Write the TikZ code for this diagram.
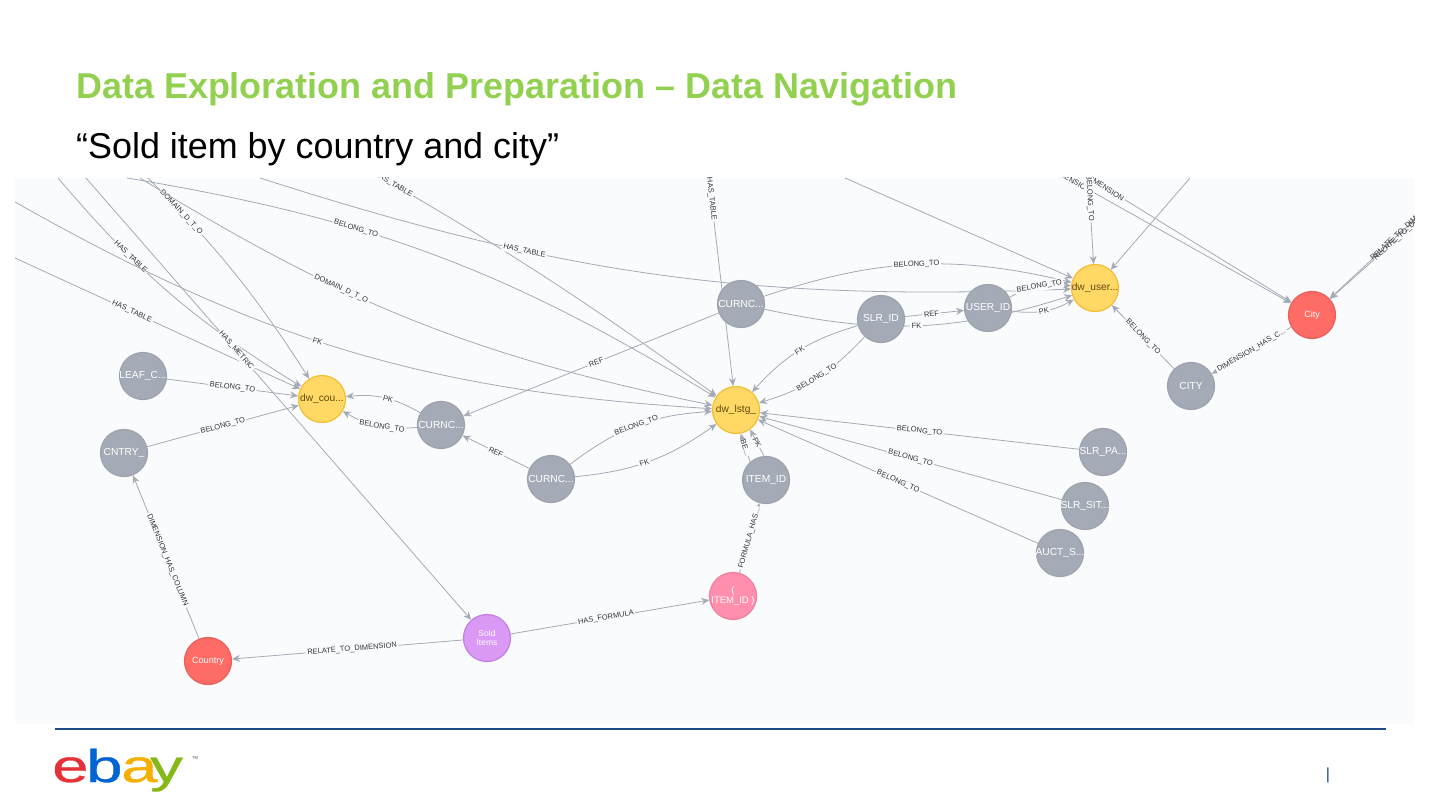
\documentclass[tikz,border=0pt]{standalone}
\usepackage{fontspec}
\setmainfont{Liberation Sans}
\newfontfamily\logofont[FakeBold=0.6]{Liberation Sans}
\usetikzlibrary{arrows.meta,backgrounds}
\definecolor{panelbg}{HTML}{F9FBFD}
\definecolor{edgegray}{HTML}{A5ABB6}
\definecolor{titlegreen}{HTML}{92D050}
\definecolor{rulenavy}{HTML}{1F4A86}
\newcommand{\logoletter}[1]{\scalebox{1.42}[1]{#1}}
\newcommand{\nodetext}[1]{\makebox[0pt][c]{#1}}
\tikzset{
  graphnode/.style={circle,minimum size=47pt,inner sep=0pt,line width=1.2pt,font=\fontsize{10.2}{11}\selectfont,text=white,align=center},
  columnnode/.style={graphnode,fill=edgegray,draw=edgegray!95!black},
  tablenode/.style={graphnode,fill={rgb,255:red,255;green,216;blue,102},draw={rgb,255:red,243;green,190;blue,50},text={rgb,255:red,96;green,74;blue,14}},
  dimnode/.style={graphnode,fill={rgb,255:red,255;green,108;blue,102},draw={rgb,255:red,232;green,95;blue,92},font=\fontsize{9}{10}\selectfont},
  formulanode/.style={graphnode,fill={rgb,255:red,255;green,143;blue,173},draw={rgb,255:red,238;green,127;blue,159}},
  metricnode/.style={graphnode,fill={rgb,255:red,217;green,153;blue,245},draw={rgb,255:red,194;green,127;blue,224},font=\fontsize{8.5}{9.5}\selectfont},
  lbl/.style={sloped,fill=panelbg,inner sep=1.5pt,text=black!80,font=\fontsize{7.5}{8}\selectfont},
  logoletter/.style={inner sep=0pt,anchor=base west,font=\fontsize{46}{46}\logofont}
}
\begin{document}
\begin{tikzpicture}[x=1pt,y=-1pt,every edge/.style={draw=edgegray,line width=0.8pt,-{Stealth[length=8pt,width=7pt]}}]
\useasboundingbox (0,0) rectangle (1440,810);
\node (title) [anchor=base west,inner sep=0pt,text=titlegreen,font=\fontsize{35.95}{36}\selectfont\bfseries] at (76,98.5) {Data Exploration and Preparation – Data Navigation};
\node (subtitle) [anchor=base west,inner sep=0pt,font=\fontsize{35.9}{36}\selectfont] at (76,159) {“Sold item by country and city”};
% nodes
\node (dwcou) [tablenode] at (322,399) {\nodetext{dw\_cou...}};
\node (dwlstg) [tablenode] at (736,410) {\nodetext{dw\_lstg\_}};
\node (dwuser) [tablenode] at (1095,288) {\nodetext{dw\_user...}};
\node (curnca) [columnnode] at (741,304) {\nodetext{CURNC...}};
\node (curncl) [columnnode] at (441,425) {\nodetext{CURNC...}};
\node (curncb) [columnnode] at (551,479) {\nodetext{CURNC...}};
\node (slrid) [columnnode] at (881,319) {\nodetext{SLR\_ID}};
\node (userid) [columnnode] at (988,308) {\nodetext{USER\_ID}};
\node (cityc) [columnnode] at (1191,386) {\nodetext{CITY}};
\node (leafc) [columnnode] at (143,376) {\nodetext{LEAF\_C...}};
\node (cntry) [columnnode] at (124,453) {\nodetext{CNTRY\_}};
\node (slrpa) [columnnode] at (1103,452) {\nodetext{SLR\_PA...}};
\node (slrsit) [columnnode] at (1085,506) {\nodetext{SLR\_SIT...}};
\node (aucts) [columnnode] at (1060,553) {\nodetext{AUCT\_S...}};
\node (itemid) [columnnode] at (766,480) {\nodetext{ITEM\_ID}};
\node (city) [dimnode] at (1312,315) {\nodetext{City}};
\node (country) [dimnode] at (208,661) {\nodetext{Country}};
\node (formula) [formulanode,font=\fontsize{9.5}{10.5}\selectfont] at (733,596) {(\\\nodetext{ITEM\_ID )}};
\node (sold) [metricnode] at (487,638) {Sold\\Items};
% ends that leave the panel
\coordinate (fa) at (15,258);
\coordinate (fb) at (58,178);
\coordinate (fc) at (86,178);
\coordinate (fd) at (148,178);
\coordinate (fe) at (15,202);
\coordinate (ff) at (140,178);
\coordinate (fg) at (127,178);
\coordinate (fh) at (360,165);
\coordinate (fi) at (260,178);
\coordinate (fj) at (709,178);
\coordinate (fk) at (845,178);
\coordinate (fl) at (1088,170);
\coordinate (fm) at (1190,178);
\coordinate (fn) at (1050,168);
\coordinate (fo) at (1075,169);
\coordinate (fp) at (1470,174);
\coordinate (fq) at (1466,172);
\begin{scope}[on background layer]
\fill [panelbg] (15,178) rectangle (1414,724);
\clip (15,178) rectangle (1414,724);
\path
(fa) edge node [lbl,pos=0.41]{HAS\_TABLE} (dwcou)
(fb) edge [bend right=9] node [lbl,pos=0.32]{HAS\_TABLE} (dwcou)
(fc) edge node [lbl,pos=0.39]{HAS\_METRIC} (sold)
(fd) edge [bend left=6] node [lbl,pos=0.17]{DOMAIN\_D\_T\_O} (dwcou)
(fe) edge [bend right=13] node [lbl,pos=0.45]{FK} (dwlstg)
(ff) edge [bend right=10] node [lbl,pos=0.36]{DOMAIN\_D\_T\_O} (dwlstg)
(fg) edge [bend left=11] node [lbl,pos=0.36]{BELONG\_TO} (dwlstg)
(fh) edge [bend left=3] node [lbl,pos=0.08]{HAS\_TABLE} (dwlstg)
(fi) edge [bend right=10] node [lbl,pos=0.32]{HAS\_TABLE} (dwuser)
(fj) edge node [lbl,pos=0.1]{HAS\_TABLE} (dwlstg)
(fk) edge (dwuser)
(fm) edge (dwuser)
(fn) edge node [lbl,pos=0.09]{DIMENSION} (city)
(fo) edge node [lbl,pos=0.14]{DIMENSION} (city)
(fl) edge node [lbl,pos=0.3]{BELONG\_TO} (dwuser)
(fp) edge node [lbl,pos=0.44]{RELATE\_TO\_DIMENSION} (city)
(fq) edge node [lbl,pos=0.45,fill=none]{RELATE\_TO\_DIMENSION} (city)
(curnca) edge [bend left=16] node [lbl]{BELONG\_TO} (dwuser)
(curnca) edge [bend right=15] node [lbl,pos=0.49]{FK} (dwuser)
(curnca) edge node [lbl,pos=0.48]{REF} (curncl)
(slrid) edge node [lbl,pos=0.45]{REF} (userid)
(userid) edge [bend left=16] node [lbl]{BELONG\_TO} (dwuser)
(userid) edge [bend right=18] node [lbl]{PK} (dwuser)
(slrid) edge [bend right=16] node [lbl]{FK} (dwlstg)
(slrid) edge [bend left=15] node [lbl]{BELONG\_TO} (dwlstg)
(curncb) edge [bend left=17] node [lbl]{BELONG\_TO} (dwlstg)
(curncb) edge [bend right=15] node [lbl,pos=0.46]{FK} (dwlstg)
(curncb) edge node [lbl]{REF} (curncl)
(curncl) edge [bend right=18] node [lbl,pos=0.45]{PK} (dwcou)
(curncl) edge [bend left=18] node [lbl,pos=0.45]{BELONG\_TO} (dwcou)
(leafc) edge node [lbl]{BELONG\_TO} (dwcou)
(cntry) edge node [lbl]{BELONG\_TO} (dwcou)
(country) edge node [lbl,pos=0.48]{DIMENSION\_HAS\_COLUMN} (cntry)
(sold) edge node [lbl,pos=0.48]{RELATE\_TO\_DIMENSION} (country)
(sold) edge node [lbl,pos=0.48]{HAS\_FORMULA} (formula)
(formula) edge node [lbl]{FORMULA\_HAS...} (itemid)
(itemid.131) edge node [lbl,inner sep=0.5pt]{BE...} (dwlstg.-79)
(itemid.95) edge node [lbl,inner sep=0.5pt]{PK} (dwlstg.-54)
(slrpa) edge node [lbl]{BELONG\_TO} (dwlstg)
(slrsit) edge node [lbl]{BELONG\_TO} (dwlstg)
(aucts) edge node [lbl]{BELONG\_TO} (dwlstg)
(city) edge node [lbl]{DIMENSION\_HAS\_C...} (cityc)
(cityc) edge node [lbl]{BELONG\_TO} (dwuser);
\end{scope}
% footer
\coordinate (rulea) at (55,729);
\coordinate (ruleb) at (1386,729);
\draw [rulenavy,line width=2.2pt] (rulea) -- (ruleb);
\node (loge) [logoletter,text={rgb,255:red,229;green,50;blue,56}] at (52,782) {\logoletter{e}};
\node (logb) [logoletter,text={rgb,255:red,0;green,100;blue,210}] at (86,782) {\logoletter{b}};
\node (loga) [logoletter,text={rgb,255:red,245;green,175;blue,2}] at (121,782) {\logoletter{a}};
\node (logy) [logoletter,text={rgb,255:red,134;green,184;blue,23}] at (150,782) {\logoletter{y}};
\node (logtm) [inner sep=0pt,text=black!60,font=\fontsize{7}{7}\selectfont] at (195,759) {™};
\node (pagenum) [inner sep=0pt,text=rulenavy,font=\fontsize{16}{16}\selectfont] at (1328,775) {|};
\end{tikzpicture}
\end{document}
